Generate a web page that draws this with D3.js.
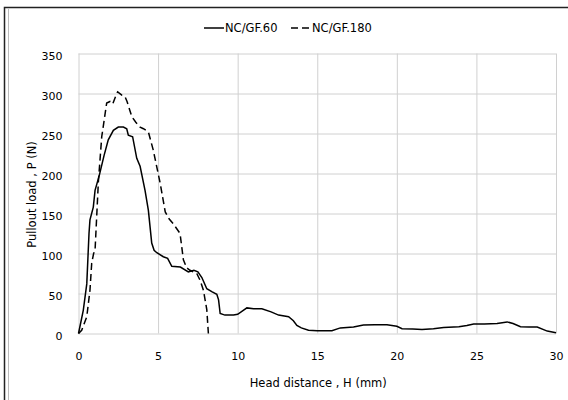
<!DOCTYPE html>
<html>
<head>
<meta charset="utf-8">
<script src="https://cdn.jsdelivr.net/npm/d3@7"></script>
<style>
    body { margin: 0; background: #fff; }
    text { font-family: "DejaVu Sans", sans-serif; fill: #000; }
    .grid line { stroke: #d0d0d0; stroke-width: 1; }
    .grid path { display: none; }
    .axis path, .axis line { display: none; }
</style>
</head>
<body>
<div id="chart-area"></div>
<script>
// NC/GF.60 curve (solid)
var h60 = [0, 0.3, 0.52, 0.66, 0.72, 0.93, 1.04, 1.31, 1.6, 1.87, 2.19, 2.5, 2.82, 3.03, 3.13, 3.4,
    3.66, 3.87, 4.18, 4.39, 4.6, 4.75, 4.92, 5.33, 5.6, 5.86, 6.4, 6.9, 7.25, 7.5, 7.75, 8.06,
    8.4, 8.69, 8.8, 8.9, 9.2, 9.74, 10.0, 10.58, 11.0, 11.52, 12.1, 12.57, 13.2, 13.5, 13.72, 14.0,
    14.45, 15.0, 15.92, 16.45, 17.28, 17.9, 18.6, 19.38, 20.0, 20.33, 21.0, 21.58, 22.3, 22.94, 23.9,
    24.4, 24.83, 25.5, 26.3, 26.93, 27.3, 27.77, 28.3, 28.82, 29.45, 30];
var p60 = [0, 29, 62, 125, 142, 158, 179, 198, 222, 242, 254, 258, 258, 256, 248, 246,
    219, 209, 179, 154, 113, 104, 101, 96, 94, 84, 83, 77, 79, 77, 70, 56,
    52, 49, 42, 25, 23, 23, 24, 32, 31, 31, 27, 23, 21, 16, 10, 7,
    4, 3.5, 3.5, 7, 8, 10.5, 11, 11, 9, 6, 5.5, 5, 6, 7.5, 8.5,
    10, 12, 12, 12.5, 14.5, 12.5, 8.5, 8, 8, 3, 1];

// NC/GF.180 curve (dashed)
var h180 = [0, 0.2, 0.52, 0.72, 0.83, 0.95, 1.04, 1.14, 1.25, 1.46, 1.77, 1.98, 2.15, 2.4, 2.46,
    2.72, 2.92, 3.05, 3.35, 3.6, 3.87, 4.08, 4.39, 4.7, 5.13, 5.45, 5.7, 5.96, 6.38, 6.59,
    6.8, 7.0, 7.43, 7.65, 7.85, 8.06, 8.12, 8.16];
var p180 = [0, 4, 21, 54, 88, 100, 104, 145, 190, 246, 288, 290, 287, 300, 302,
    298, 296, 290, 271, 264, 258, 256, 252, 229, 188, 152, 143, 137, 125, 92,
    82, 79, 75, 66, 54, 30, 12, 0];

var xTicks = [0, 5, 10, 15, 20, 25, 30];
var yTicks = [0, 50, 100, 150, 200, 250, 300, 350];

var W = 568, H = 400;
var margin = { left: 78.5, right: 12, top: 53.5, bottom: 66.5 };
var width = W - margin.left - margin.right,
    height = H - margin.top - margin.bottom;

var svg = d3.select("#chart-area")
    .append("svg")
        .attr("width", W)
        .attr("height", H);

// outer frame
svg.append("rect")
    .attr("x", 4.5).attr("y", 7.5)
    .attr("width", 700).attr("height", 700)
    .attr("fill", "none")
    .attr("stroke", "#222")
    .attr("stroke-width", 1.5);
svg.append("line")
    .attr("x1", 8.5).attr("x2", 8.5)
    .attr("y1", 9).attr("y2", H)
    .attr("stroke", "#bbb");

var g = svg.append("g")
    .attr("transform", "translate(" + margin.left + ", " + margin.top + ")");

var x = d3.scaleLinear().domain([0, 30]).range([0, width]);
var y = d3.scaleLinear().domain([0, 350]).range([height, 0]);

// Gridlines
g.append("g")
    .attr("class", "grid")
    .attr("transform", "translate(0," + height + ")")
    .call(d3.axisBottom(x).tickValues(xTicks).tickSize(-height).tickFormat(""));
g.append("g")
    .attr("class", "grid")
    .call(d3.axisLeft(y).tickValues(yTicks).tickSize(-width).tickFormat(""));

// Axes labels
g.append("g")
    .attr("class", "axis")
    .attr("transform", "translate(0," + height + ")")
    .call(d3.axisBottom(x).tickValues(xTicks).tickSize(0).tickPadding(19))
    .selectAll("text")
        .attr("font-size", "11px");
g.append("g")
    .attr("class", "axis")
    .call(d3.axisLeft(y).tickValues(yTicks).tickSize(0).tickPadding(16))
    .selectAll("text")
        .attr("font-size", "11px")
        .attr("dy", "0.5em");
g.selectAll(".axis text").style("font-family", "DejaVu Sans, sans-serif").attr("fill", "#000");

// X Label
g.append("text")
    .attr("x", x(15) + 1)
    .attr("y", height + 53)
    .attr("font-size", "11.5px")
    .attr("text-anchor", "middle")
    .text("Head distance , H (mm)");

// Y Label
g.append("text")
    .attr("x", -(y(175) + 1))
    .attr("y", -43)
    .attr("font-size", "11.5px")
    .attr("text-anchor", "middle")
    .attr("transform", "rotate(-90)")
    .text("Pullout load , P (N)");

// Lines
var line = d3.line()
    .x(function(d) { return x(d[0]); })
    .y(function(d) { return y(d[1]); });

g.append("path")
    .datum(h60.map(function(v, i) { return [v, p60[i]]; }))
    .attr("d", line)
    .attr("fill", "none")
    .attr("stroke", "#000")
    .attr("stroke-width", 1.5);

g.append("path")
    .datum(h180.map(function(v, i) { return [v, p180[i]]; }))
    .attr("d", line)
    .attr("fill", "none")
    .attr("stroke", "#000")
    .attr("stroke-width", 1.5)
    .attr("stroke-dasharray", "7,4");

// Legend
var legend = svg.append("g").attr("transform", "translate(204, 28)");
legend.append("line")
    .attr("x1", 0).attr("x2", 20).attr("y1", 0).attr("y2", 0)
    .attr("stroke", "#000").attr("stroke-width", 1.5);
legend.append("text")
    .attr("x", 21).attr("y", 4)
    .attr("font-size", "11.5px")
    .text("NC/GF.60");
legend.append("line")
    .attr("x1", 87).attr("x2", 107).attr("y1", 0).attr("y2", 0)
    .attr("stroke", "#000").attr("stroke-width", 1.5)
    .attr("stroke-dasharray", "7,4");
legend.append("text")
    .attr("x", 108).attr("y", 4)
    .attr("font-size", "11.5px")
    .text("NC/GF.180");
</script>
</body>
</html>
